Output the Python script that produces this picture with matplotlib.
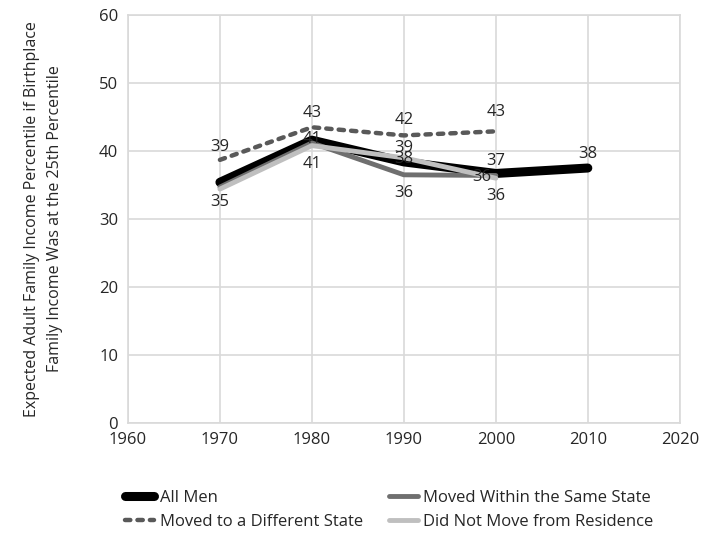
import numpy as np
import matplotlib.pyplot as plt

plt.rcParams['font.family'] = ['Open Sans', 'DejaVu Sans']

years = [1970, 1980, 1990, 2000, 2010]
years_short = [1970, 1980, 1990, 2000]

all_men = [35.4, 41.6, 38.4, 36.7, 37.5]
same_state = [34.7, 41.2, 36.5, 36.4]
diff_state = [38.7, 43.5, 42.3, 42.9]
no_move = [34.4, 40.8, 39.0, 36.0]

# label text, (dx, dy) offsets in points from the point
lab_all = [(None, None), ('41', (0, 1)), ('38', (0, 2)), ('37', (0, 9)), ('38', (0, 10))]
lab_same = [('35', (0, -11)), (None, None), ('36', (0, -13)), ('36', (-10, -1))]
lab_diff = [('39', (0, 9)), ('43', (0, 10)), ('42', (0, 11)), ('43', (0, 14))]
lab_no = [(None, None), ('41', (0, -13)), ('39', (0, 7)), ('36', (0, -13))]

fig = plt.figure(figsize=(7.03, 5.42), dpi=100)
ax = fig.add_axes([0.182, 0.22, 0.785, 0.752])

l1, = ax.plot(years, all_men, color='black', lw=6.5, solid_capstyle='round',
              solid_joinstyle='round', label='All Men', zorder=2)
l2, = ax.plot(years_short, same_state, color='#6f6f6f', lw=3.5, solid_capstyle='round',
              label='Moved Within the Same State', zorder=3)
l3, = ax.plot(years_short, diff_state, color='#595959', lw=3.2, ls=(0, (1.2, 1.6)),
              dash_capstyle='round', label='Moved to a Different State', zorder=4)
l4, = ax.plot(years_short, no_move, color='#bfbfbf', lw=3.5, solid_capstyle='round',
              label='Did Not Move from Residence', zorder=5)

for xs, ys, labs in [(years, all_men, lab_all), (years_short, same_state, lab_same),
                     (years_short, diff_state, lab_diff), (years_short, no_move, lab_no)]:
    for x, y, (t, off) in zip(xs, ys, labs):
        if t is None:
            continue
        ax.annotate(t, (x, y), xytext=off, textcoords='offset points',
                    ha='center', va='center', fontsize=12, color='#262626', zorder=6)

ax.set_xlim(1960, 2020)
ax.set_ylim(0, 60)
ax.set_xticks(np.arange(1960, 2021, 10))
ax.set_yticks(np.arange(0, 61, 10))
ax.grid(True, color='#d9d9d9', lw=1.2)
ax.set_axisbelow(True)
for s in ax.spines.values():
    s.set_color('#d9d9d9')
    s.set_linewidth(1.2)
ax.tick_params(length=0, labelsize=12, colors='#262626', pad=7)
ax.set_ylabel('Expected Adult Family Income Percentile if Birthplace\nFamily Income Was at the 25th Percentile',
              fontsize=11.5, color='#262626', labelpad=26, linespacing=1.6)

fig.legend(handles=[l1, l3, l2, l4], ncol=2, loc='lower left',
           bbox_to_anchor=(0.157, -0.005), frameon=False, fontsize=12,
           handlelength=1.7, columnspacing=1.6, labelspacing=0.45, handletextpad=0.35,
           labelcolor='#262626')

fig.savefig('out.png', dpi=100)
